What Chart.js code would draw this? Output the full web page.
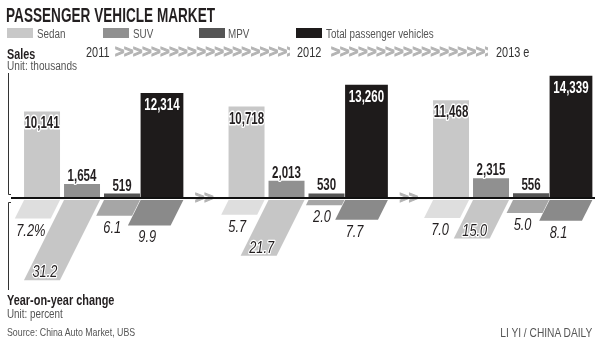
<!DOCTYPE html>
<html>
<head>
<meta charset="utf-8">
<script src="https://cdn.jsdelivr.net/npm/chart.js@4.4.1/dist/chart.umd.min.js"></script>
<style>
  body { margin: 0; background: #fff; }
  #wrap { position: relative; width: 600px; height: 344px; overflow: hidden; background: #fff;
          font-family: "Liberation Sans", Arial, sans-serif; color: #555; }
  #wrap canvas { position: absolute; left: 0; top: 0; }
  .t { position: absolute; white-space: nowrap; line-height: 1; transform-origin: 0 0; transform: scaleX(0.82); }
  .sw { position: absolute; width: 26px; height: 10px; }
  .chev { position: absolute; overflow: hidden; white-space: nowrap; line-height: 1;
          font-weight: bold; font-size: 16px; letter-spacing: -0.3px; color: #b4b4b4;
          -webkit-text-stroke: 0.9px #b4b4b4; }
</style>
</head>
<body>
<div id="wrap">
  <canvas id="grafico" width="600" height="344"></canvas>

  <div class="t" style="left:6px;top:5px;font-size:20px;font-weight:bold;color:#231f20;transform:scaleX(0.68)">PASSENGER VEHICLE MARKET</div>

  <div class="sw" style="left:7px;top:28px;background:#c8c8c8"></div>
  <div class="t" style="left:37px;top:28px;font-size:12px">Sedan</div>
  <div class="sw" style="left:103px;top:28px;background:#909090"></div>
  <div class="t" style="left:133px;top:28px;font-size:12px">SUV</div>
  <div class="sw" style="left:199px;top:28px;background:#555555"></div>
  <div class="t" style="left:228px;top:28px;font-size:12px">MPV</div>
  <div class="sw" style="left:296px;top:28px;background:#1e1b1b"></div>
  <div class="t" style="left:326px;top:28px;font-size:12px">Total passenger vehicles</div>

  <div class="t" style="left:7px;top:46px;font-size:15px;font-weight:bold;color:#231f20;transform:scaleX(0.72)">Sales</div>
  <div class="t" id="yr0" style="left:86px;top:45px;font-size:14px;color:#333;transform:scaleX(0.78)"></div>
  <div class="chev" style="left:115px;top:44px;width:175px">&gt;&gt;&gt;&gt;&gt;&gt;&gt;&gt;&gt;&gt;&gt;&gt;&gt;&gt;&gt;&gt;&gt;&gt;&gt;&gt;&gt;&gt;&gt;&gt;</div>
  <div class="t" id="yr1" style="left:297px;top:45px;font-size:14px;color:#333;transform:scaleX(0.78)"></div>
  <div class="chev" style="left:331px;top:44px;width:157px">&gt;&gt;&gt;&gt;&gt;&gt;&gt;&gt;&gt;&gt;&gt;&gt;&gt;&gt;&gt;&gt;&gt;&gt;&gt;&gt;&gt;&gt;</div>
  <div class="t" id="yr2" style="left:496px;top:45px;font-size:14px;color:#333;transform:scaleX(0.78)"></div>
  <div class="t" style="left:7px;top:60px;font-size:12px;transform:scaleX(0.84)">Unit: thousands</div>

  <div class="t" style="left:7px;top:293px;font-size:14px;font-weight:bold;color:#231f20;transform:scaleX(0.78)">Year-on-year change</div>
  <div class="t" style="left:7px;top:308px;font-size:12px">Unit: percent</div>
  <div class="t" style="left:7px;top:327px;font-size:11px;transform:scaleX(0.8)">Source: China Auto Market, UBS</div>
  <div class="t" style="right:8px;top:327px;font-size:12px;transform-origin:100% 0;transform:scaleX(0.85)">LI YI / CHINA DAILY</div>
</div>

<script>
const anos = ['2011', '2012', '2013 e'];
const tipos = ['Sedan', 'SUV', 'MPV', 'Total passenger vehicles'];

// vendas, em milhares
const vendasSedan = [10141, 10718, 11468];
const vendasSuv = [1654, 2013, 2315];
const vendasMpv = [519, 530, 556];
const vendasTotal = [12314, 13260, 14339];

// variação anual, em %
const variacaoSedan = [7.2, 5.7, 7.0];
const variacaoSuv = [31.2, 21.7, 15.0];
const variacaoMpv = [6.1, 2.0, 5.0];
const variacaoTotal = [9.9, 7.7, 8.1];

const coresVendas = ['#c8c8c8', '#909090', '#555555', '#1e1b1b'];
const coresVariacao = ['#dedede', '#c6c6c6', '#a6a6a6', '#8a8a8a'];

anos.forEach((a, i) => { document.getElementById('yr' + i).textContent = a; });

const vendas = [vendasSedan, vendasSuv, vendasMpv, vendasTotal];
const variacao = [variacaoSedan, variacaoSuv, variacaoMpv, variacaoTotal];
const inclinacao = 0.5;   // deslocamento horizontal por pixel vertical das barras de baixo
const fonte = '"Liberation Sans", Arial, sans-serif';

function pontos(arr) {
    return arr.map((v, i) => ({ x: i, y: v }));
}

const datasets = [];
tipos.forEach((t, k) => {
    datasets.push({
        label: t,
        data: pontos(vendas[k]),
        yAxisID: 'y',
        stack: 'g' + k,
        backgroundColor: coresVendas[k],
        barPercentage: k === 3 ? 1.07 : 0.9,
        categoryPercentage: 0.782
    });
});
tipos.forEach((t, k) => {
    datasets.push({
        label: t + ' %',
        data: pontos(variacao[k]),
        yAxisID: 'y2',
        stack: 'g' + k,
        backgroundColor: coresVariacao[k],
        barPercentage: k === 3 ? 1.07 : 0.9,
        categoryPercentage: 0.782,
        variacao: true
    });
});

function texto(ctx, s, x, y, font, fill, halo, sx, lw) {
    ctx.save();
    ctx.translate(x, y);
    ctx.scale(sx, 1);
    ctx.font = font;
    ctx.textAlign = 'center';
    ctx.textBaseline = 'alphabetic';
    ctx.lineJoin = 'round';
    ctx.lineWidth = lw;
    ctx.strokeStyle = halo;
    ctx.strokeText(s, 0, 0);
    ctx.fillStyle = fill;
    ctx.fillText(s, 0, 0);
    ctx.restore();
}

const enfeites = {
    id: 'enfeites',
    beforeDatasetDraw(chart, args) {
        if (!chart.data.datasets[args.index].variacao) return;
        const y0 = chart.scales.y2.getPixelForValue(0);
        chart.ctx.save();
        chart.ctx.transform(1, 0, -inclinacao, 1, inclinacao * y0, 0);
    },
    afterDatasetDraw(chart, args) {
        if (chart.data.datasets[args.index].variacao) chart.ctx.restore();
    },
    afterDatasetsDraw(chart) {
        const ctx = chart.ctx;
        const area = chart.chartArea;
        const x = chart.scales.x;
        const base = chart.scales.y.getPixelForValue(0);

        // setas cinzas entre os anos
        ctx.save();
        ctx.font = 'bold 16px ' + fonte;
        ctx.fillStyle = '#b4b4b4';
        ctx.strokeStyle = '#b4b4b4';
        ctx.lineWidth = 0.9;
        ctx.textAlign = 'center';
        ctx.textBaseline = 'middle';
        [0.5, 1.5].forEach(v => {
            ctx.fillText('>>', x.getPixelForValue(v), base + 1);
            ctx.strokeText('>>', x.getPixelForValue(v), base + 1);
        });
        ctx.restore();

        // linha de base e eixo esquerdo
        ctx.save();
        ctx.strokeStyle = '#111';
        ctx.lineWidth = 2;
        ctx.beginPath();
        ctx.moveTo(area.left + 3, base);
        ctx.lineTo(area.right - 2, base);
        ctx.stroke();
        ctx.lineWidth = 1;
        ctx.strokeStyle = '#333';
        ctx.beginPath();
        ctx.moveTo(area.left + 0.5, area.top + 3);
        ctx.lineTo(area.left + 0.5, base - 3.5);
        ctx.lineTo(area.left + 3, base - 3.5);
        ctx.moveTo(area.left + 3, base + 4.5);
        ctx.lineTo(area.left + 0.5, base + 4.5);
        ctx.lineTo(area.left + 0.5, area.bottom);
        ctx.stroke();
        ctx.restore();

        // rótulos
        chart.data.datasets.forEach((ds, di) => {
            const meta = chart.getDatasetMeta(di);
            const k = di % 4;
            meta.data.forEach((bar, i) => {
                const p = bar.getProps(['x', 'y', 'base'], true);
                const v = ds.data[i].y;
                if (!ds.variacao) {
                    const s = v.toLocaleString('en-US');
                    const dentro = p.base - p.y > 40;
                    const yy = dentro ? p.y + 17 : p.y - 3;
                    const fill = k === 3 ? '#fff' : '#231f20';
                    const halo = k === 3 ? '#1e1b1b' : '#fff';
                    texto(ctx, s, p.x, yy, 'bold 16px ' + fonte, fill, halo, 0.72, 3);
                } else {
                    const s = (k === 0 && i === 0) ? v.toFixed(1) + '%' : v.toFixed(1);
                    const h = p.y - p.base;
                    const bx = p.x - inclinacao * h;
                    const dentro = h > 30;
                    const xx = dentro ? bx + 3 : bx - 2;
                    const yy = dentro ? p.y - 3 : p.y + 17;
                    texto(ctx, s, xx, yy, 'italic 16px ' + fonte, '#231f20', '#fff', 0.8, 2.5);
                }
            });
        });
    }
};

new Chart(document.getElementById('grafico').getContext('2d'), {
    type: 'bar',
    data: { datasets: datasets },
    options: {
        responsive: false,
        animation: false,
        layout: { padding: { left: 8, right: 3, top: 70, bottom: 54 } },
        plugins: { legend: { display: false }, tooltip: { enabled: false } },
        scales: {
            x: {
                type: 'linear', display: false, offset: false, min: -0.4597, max: 2.4205,
                // um tick por ano, para a largura das barras seguir o espaço entre anos
                afterBuildTicks: s => { s.ticks = anos.map((a, i) => ({ value: i })); }
            },
            y2: { position: 'left', stack: 'v', stackWeight: 92, display: false, reverse: true, min: -0.8, max: 35 },
            y: { position: 'left', stack: 'v', stackWeight: 128, display: false, min: 0, max: 15000 }
        }
    },
    plugins: [enfeites]
});
</script>
</body>
</html>
